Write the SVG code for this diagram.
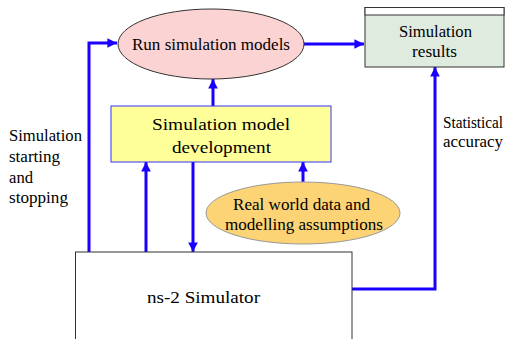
<svg xmlns="http://www.w3.org/2000/svg" width="508" height="339" viewBox="0 0 508 339">
<style>
.t{font-family:'Liberation Serif','Times New Roman',serif;font-size:16px;fill:#000}
.c{text-anchor:middle}
.ln{fill:none;stroke:#1a00ff;stroke-width:3}
</style>
<defs>
<marker id="ah" viewBox="0 0 10 10" refX="10" refY="5" markerWidth="3.2" markerHeight="3.2" orient="auto" markerUnits="strokeWidth">
<path d="M0,0 L10,5 L0,10 z" fill="#1a00ff"/>
</marker>
</defs>
<rect width="508" height="339" fill="#fff"/>
<g id="connectors">
<polyline class="ln" points="89,252 89,43 117,43" marker-end="url(#ah)" stroke-width="2.5"/>
<line class="ln" x1="304" y1="44" x2="364" y2="44" stroke-width="4" marker-end="url(#ah)"/>
<line class="ln" x1="213" y1="106" x2="213" y2="79" marker-end="url(#ah)"/>
<line class="ln" x1="146" y1="252" x2="146" y2="162" stroke-width="3.5" marker-end="url(#ah)"/>
<line class="ln" x1="193" y1="162" x2="193" y2="252" marker-end="url(#ah)"/>
<line class="ln" x1="303" y1="183" x2="303" y2="162" marker-end="url(#ah)"/>
<polyline class="ln" points="352,289 435,289 435,67" stroke-width="2.5" marker-end="url(#ah)"/>
</g>
<g id="run-models">
<ellipse cx="211" cy="44" rx="93" ry="35" fill="#fcd3d3" stroke="#333" stroke-width="1"/>
<text class="t" x="132" y="50" textLength="158" lengthAdjust="spacingAndGlyphs">Run simulation models</text>
</g>
<g id="results">
<rect x="365" y="7.5" width="139" height="59.5" fill="#e0ebe0" stroke="#333" stroke-width="1"/>
<rect x="365" y="7.5" width="139" height="7.5" fill="#fff" stroke="#333" stroke-width="1"/>
<text class="t" x="399" y="37" textLength="73" lengthAdjust="spacingAndGlyphs">Simulation</text>
<text class="t" x="412" y="57" textLength="45" lengthAdjust="spacingAndGlyphs">results</text>
</g>
<g id="model-dev">
<rect x="111" y="106" width="220" height="56" fill="#ffff99" stroke="#3333ff" stroke-width="1"/>
<text class="t" x="152" y="130" textLength="138" lengthAdjust="spacingAndGlyphs">Simulation model</text>
<text class="t" x="172" y="153" textLength="99" lengthAdjust="spacingAndGlyphs">development</text>
</g>
<g id="real-world">
<ellipse cx="303" cy="213" rx="97" ry="31" fill="#fcd375" stroke="#999" stroke-width="1"/>
<text class="t" x="233" y="210" textLength="137" lengthAdjust="spacingAndGlyphs">Real world data and</text>
<text class="t" x="225" y="230" textLength="158" lengthAdjust="spacingAndGlyphs">modelling assumptions</text>
</g>
<g id="ns2">
<rect x="75.5" y="252" width="276.5" height="95" fill="#fff" stroke="#333" stroke-width="1"/>
<text class="t" x="147" y="303" textLength="113" lengthAdjust="spacingAndGlyphs">ns-2 Simulator</text>
</g>
<g id="labels">
<text class="t" x="9" y="141" textLength="73" lengthAdjust="spacingAndGlyphs">Simulation</text>
<text class="t" x="9" y="162" textLength="51" lengthAdjust="spacingAndGlyphs">starting</text>
<text class="t" x="9" y="183" textLength="24" lengthAdjust="spacingAndGlyphs">and</text>
<text class="t" x="9" y="203" textLength="59" lengthAdjust="spacingAndGlyphs">stopping</text>
<text class="t" x="443" y="128" textLength="60" lengthAdjust="spacingAndGlyphs">Statistical</text>
<text class="t" x="443" y="147" textLength="60" lengthAdjust="spacingAndGlyphs">accuracy</text>
</g>
</svg>
